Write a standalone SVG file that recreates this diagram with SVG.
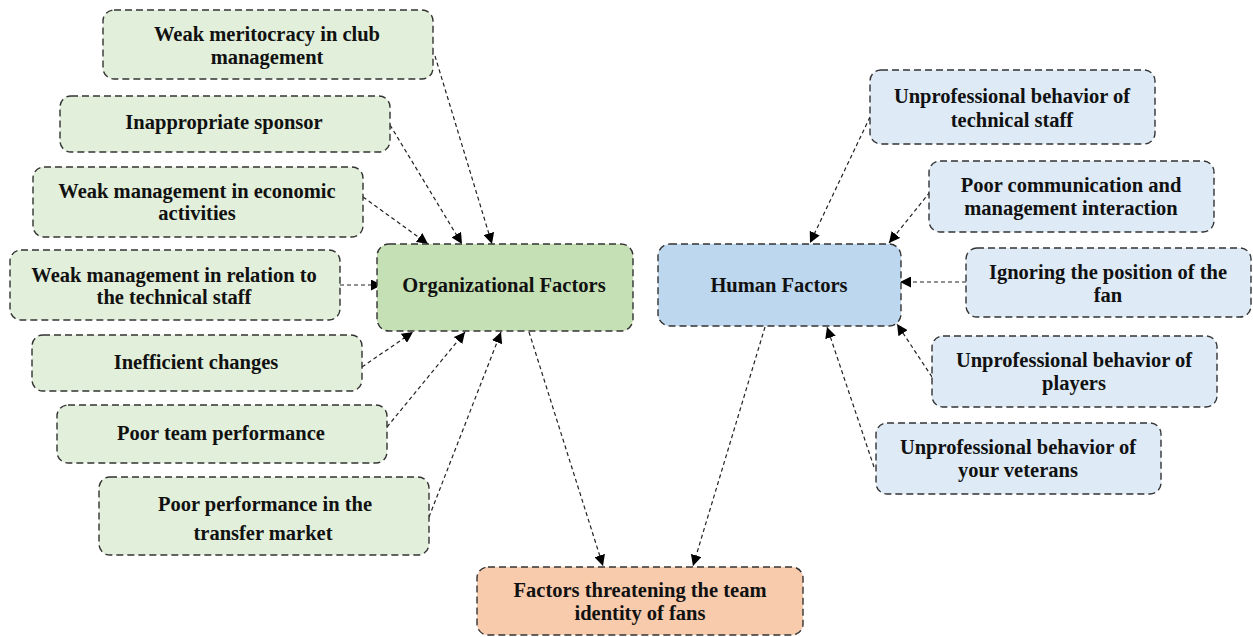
<svg xmlns="http://www.w3.org/2000/svg" width="1253" height="637" viewBox="0 0 1253 637">
<style>
.box{stroke:#333;stroke-width:1.4;stroke-dasharray:7,4}
.g{fill:#e2efda}.gd{fill:#c5e0b4}.b{fill:#deebf7}.bd{fill:#bdd7ee}.o{fill:#f8cbad}
text{font-family:"Liberation Serif","Times New Roman",serif;font-weight:bold;font-size:20.5px;fill:#111;text-anchor:middle}
.c{fill:none;stroke:#222;stroke-width:1.2;stroke-dasharray:4,3;marker-end:url(#ah)}
</style>
<defs>
<marker id="ah" viewBox="0 0 10 10" refX="10" refY="5" markerWidth="11" markerHeight="11" markerUnits="userSpaceOnUse" orient="auto">
<path d="M0,0 L10,5 L0,10 z" fill="#000"/>
</marker>
</defs>
<rect width="1253" height="637" fill="#fff"/>
<g id="connectors">
<line class="c" x1="435" y1="56" x2="492" y2="244"/>
<line class="c" x1="390" y1="125" x2="462" y2="244"/>
<line class="c" x1="363" y1="197" x2="428" y2="244"/>
<line class="c" x1="340" y1="285" x2="382" y2="285"/>
<line class="c" x1="362" y1="367" x2="413" y2="332"/>
<line class="c" x1="387" y1="427" x2="465" y2="332"/>
<line class="c" x1="429" y1="517" x2="501" y2="332"/>
<line class="c" x1="529" y1="332" x2="603" y2="566"/>
<line class="c" x1="870" y1="117" x2="810" y2="243"/>
<line class="c" x1="930" y1="192" x2="889" y2="243"/>
<line class="c" x1="966" y1="282" x2="900" y2="282"/>
<line class="c" x1="932" y1="377" x2="897" y2="324"/>
<line class="c" x1="874" y1="467" x2="827" y2="327"/>
<line class="c" x1="765" y1="327" x2="693" y2="566"/>
</g>
<g id="n-meritocracy"><rect class="box g" x="103" y="10" width="330" height="69" rx="11"/><text x="267" y="41">Weak meritocracy in club</text><text x="267" y="64">management</text></g>
<g id="n-sponsor"><rect class="box g" x="60" y="96" width="330" height="56" rx="11"/><text x="224" y="129">Inappropriate sponsor</text></g>
<g id="n-economic"><rect class="box g" x="33" y="167" width="330" height="70" rx="11"/><text x="197" y="198">Weak management in economic</text><text x="197" y="220">activities</text></g>
<g id="n-relation"><rect class="box g" x="10" y="250" width="330" height="70" rx="11"/><text x="174" y="282">Weak management in relation to</text><text x="174" y="304">the technical staff</text></g>
<g id="n-inefficient"><rect class="box g" x="32" y="335" width="330" height="56" rx="11"/><text x="196" y="369">Inefficient changes</text></g>
<g id="n-team"><rect class="box g" x="57" y="405" width="330" height="58" rx="11"/><text x="221" y="440">Poor team performance</text></g>
<g id="n-transfer"><rect class="box g" x="99" y="477" width="330" height="78" rx="11"/><text x="265" y="511">Poor performance in the</text><text x="263" y="540">transfer market</text></g>
<g id="n-org"><rect class="box gd" x="377" y="244" width="256" height="87" rx="12"/><text x="504" y="292">Organizational Factors</text></g>
<g id="n-human"><rect class="box bd" x="658" y="244" width="243" height="82" rx="12"/><text x="779" y="292">Human Factors</text></g>
<g id="n-techstaff"><rect class="box b" x="870" y="70" width="285" height="74" rx="11"/><text x="1012" y="103">Unprofessional behavior of</text><text x="1012" y="127">technical staff</text></g>
<g id="n-communication"><rect class="box b" x="929" y="161" width="285" height="71" rx="11"/><text x="1071" y="192">Poor communication and</text><text x="1071" y="215">management interaction</text></g>
<g id="n-fan"><rect class="box b" x="966" y="248" width="285" height="69" rx="11"/><text x="1108" y="279">Ignoring the position of the</text><text x="1108" y="302">fan</text></g>
<g id="n-players"><rect class="box b" x="932" y="336" width="285" height="71" rx="11"/><text x="1074" y="367">Unprofessional behavior of</text><text x="1074" y="390">players</text></g>
<g id="n-veterans"><rect class="box b" x="876" y="423" width="285" height="71" rx="11"/><text x="1018" y="454">Unprofessional behavior of</text><text x="1018" y="477">your veterans</text></g>
<g id="n-threat"><rect class="box o" x="477" y="567" width="326" height="68" rx="11"/><text x="640" y="597">Factors threatening the team</text><text x="640" y="620">identity of fans</text></g>
</svg>
